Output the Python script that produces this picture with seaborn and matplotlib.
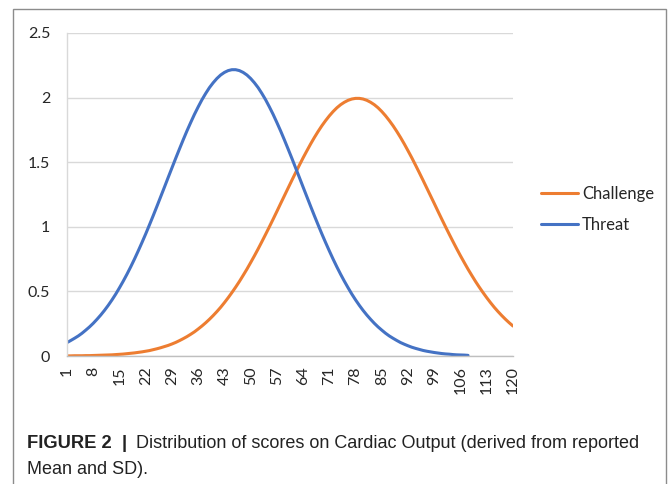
import numpy as np
import pandas as pd
import matplotlib
matplotlib.use('Agg')
import matplotlib.pyplot as plt
import matplotlib.patches as patches
import seaborn as sns

###########################################################################################
# Data
###########################################################################################

categories = list(range(1, 121))
tick_labels = [str(c) for c in categories[::7]]

threat = [
    0.104, 0.120, 0.137, 0.155, 0.176, 0.200, 0.225, 0.253, 0.284, 0.317,
    0.353, 0.392, 0.434, 0.479, 0.528, 0.579, 0.633, 0.690, 0.750, 0.813,
    0.878, 0.945, 1.015, 1.086, 1.159, 1.233, 1.307, 1.382, 1.456, 1.530,
    1.602, 1.673, 1.742, 1.807, 1.870, 1.928, 1.983, 2.032, 2.077, 2.115,
    2.148, 2.175, 2.195, 2.209, 2.216, 2.216, 2.209, 2.195, 2.175, 2.148,
    2.115, 2.077, 2.032, 1.983, 1.928, 1.870, 1.807, 1.742, 1.673, 1.602,
    1.530, 1.456, 1.382, 1.307, 1.233, 1.159, 1.086, 1.015, 0.945, 0.878,
    0.813, 0.750, 0.690, 0.633, 0.579, 0.528, 0.479, 0.434, 0.392, 0.353,
    0.317, 0.284, 0.253, 0.225, 0.200, 0.176, 0.155, 0.137, 0.120, 0.104,
    0.091, 0.079, 0.068, 0.059, 0.051, 0.043, 0.037, 0.032, 0.027, 0.023,
    0.019, 0.016, 0.014, 0.011, 0.009, 0.008, 0.007, 0.005,
]

challenge = [
    0.001, 0.001, 0.002, 0.002, 0.002, 0.003, 0.003, 0.004, 0.005, 0.006,
    0.007, 0.008, 0.009, 0.011, 0.013, 0.015, 0.018, 0.021, 0.024, 0.028,
    0.032, 0.037, 0.042, 0.049, 0.056, 0.064, 0.073, 0.082, 0.093, 0.105,
    0.119, 0.134, 0.150, 0.168, 0.187, 0.209, 0.232, 0.257, 0.284, 0.313,
    0.344, 0.377, 0.413, 0.451, 0.491, 0.533, 0.577, 0.624, 0.672, 0.723,
    0.775, 0.829, 0.885, 0.942, 1.000, 1.059, 1.119, 1.180, 1.240, 1.300,
    1.360, 1.419, 1.477, 1.534, 1.588, 1.641, 1.691, 1.738, 1.782, 1.822,
    1.859, 1.892, 1.921, 1.945, 1.964, 1.979, 1.989, 1.994, 1.994, 1.989,
    1.979, 1.964, 1.945, 1.921, 1.892, 1.859, 1.822, 1.782, 1.738, 1.691,
    1.641, 1.588, 1.534, 1.477, 1.419, 1.360, 1.300, 1.240, 1.180, 1.119,
    1.059, 1.000, 0.942, 0.885, 0.829, 0.775, 0.723, 0.672, 0.624, 0.577,
    0.533, 0.491, 0.451, 0.413, 0.377, 0.344, 0.313, 0.284, 0.257, 0.232,
]

series_names = ['Challenge', 'Threat']
series_colors = ['#ED7D31', '#4472C4']

###########################################################################################
# Plot
###########################################################################################

sns.set_style('white')
plt.rcParams['font.family'] = ['Lato', 'DejaVu Sans']

df = pd.concat([
    pd.DataFrame({'x': categories[:len(challenge)], 'y': challenge, 'series': 'Challenge'}),
    pd.DataFrame({'x': categories[:len(threat)], 'y': threat, 'series': 'Threat'}),
])

fig = plt.figure(figsize=(6.68, 4.84), dpi=100)
ax = fig.add_axes([67 / 668, 1 - 356 / 484, (513 - 67) / 668, (356 - 33) / 484])

sns.lineplot(data=df, x='x', y='y', hue='series', hue_order=series_names,
             palette=series_colors, linewidth=2.2, ax=ax, legend=False)

ax.set_xlim(1, 120)
ax.set_ylim(0, 2.5)
ax.set_xlabel('')
ax.set_ylabel('')

# y axis: gridlines that poke out a little to the left
yt = [0, 0.5, 1, 1.5, 2, 2.5]
ax.set_yticks(yt)
ax.set_yticklabels(['0', '0.5', '1', '1.5', '2', '2.5'])
ax.yaxis.grid(True, color='#D9D9D9', linewidth=1)
ax.set_axisbelow(True)
ax.tick_params(axis='y', length=5, width=1, color='#D9D9D9', pad=7,
               labelsize=11.5, labelcolor='#262626')

# x axis: small tick at every category, label at every 7th
ax.set_xticks(categories, minor=True)
ax.set_xticks(categories[::7])
ax.set_xticklabels(tick_labels, rotation=90, ha='center', va='top')
ax.tick_params(axis='x', which='minor', length=3.5, width=0.8, color='#BFBFBF')
ax.tick_params(axis='x', which='major', length=3.5, width=0.8, color='#BFBFBF',
               pad=4, labelsize=11.5, labelcolor='#262626')

for s in ['top', 'right']:
    ax.spines[s].set_visible(False)
ax.spines['left'].set_color('#D9D9D9')
ax.spines['bottom'].set_color('#BFBFBF')
ax.spines['left'].set_linewidth(1)
ax.spines['bottom'].set_linewidth(1)

# legend
handles = [plt.Line2D([], [], color=c, lw=2.2) for c in series_colors]
fig.legend(handles, series_names, loc='upper left',
           bbox_to_anchor=(526 / 668, 1 - 171 / 484), frameon=False,
           fontsize=12, handlelength=2.2, handletextpad=0.25, labelspacing=0.9,
           labelcolor='#262626')

# outer frame
fig.add_artist(patches.Rectangle((13 / 668, -0.02), (666 - 13) / 668, (484 - 9) / 484 + 0.02,
                                 transform=fig.transFigure, fill=False,
                                 edgecolor='#8C8C8C', linewidth=1))

# caption
cap_font = ['Liberation Sans', 'DejaVu Sans']
t1 = fig.text(27 / 668, 1 - 448 / 484, 'FIGURE 2  |', family=cap_font, fontweight='bold',
              fontsize=13.2, color='#222222', va='baseline')
fig.canvas.draw()
bb = t1.get_window_extent(fig.canvas.get_renderer())
x_next = (bb.x1 + 9) / fig.bbox.width
fig.text(x_next, 1 - 448 / 484, 'Distribution of scores on Cardiac Output (derived from reported',
         family=cap_font, fontsize=13, color='#222222', va='baseline')
fig.text(27 / 668, 1 - 474 / 484, 'Mean and SD).', family=cap_font, fontsize=13,
         color='#222222', va='baseline')

fig.savefig('out.png', dpi=100)
